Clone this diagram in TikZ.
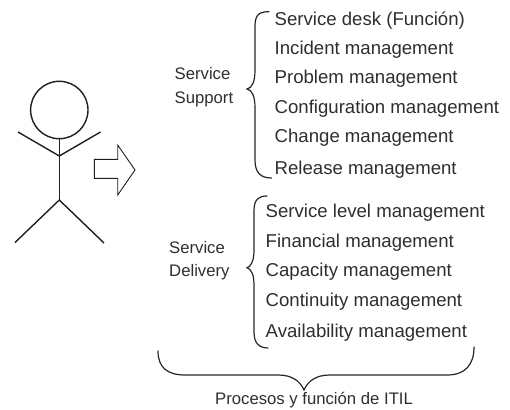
\documentclass[tikz,border=0pt]{standalone}
\usepackage{fontspec}
\setmainfont{Liberation Sans}
\tikzset{
  item/.style={anchor=base west,inner sep=0pt,text=black!82,font=\fontsize{18.6}{20}\selectfont},
  group/.style={anchor=base west,inner sep=0pt,text=black!82,font=\fontsize{16.7}{18}\selectfont},
  figure/.style={draw=black!88,line width=1.4pt,line join=miter},
  arrowshape/.style={draw=black!88,line width=0.9pt,fill=white,line join=miter},
  brace/.style={draw=black!85,line width=1.2pt,line cap=round}
}
\begin{document}
\begin{tikzpicture}[x=1pt,y=-1pt]
\useasboundingbox (0,0) rectangle (510,409);
% figure
\draw[figure] (59.3,110) circle[radius=28.7];
\draw[figure] (59.3,138.7) -- (59.3,200);
\draw[figure] (18,132) -- (59.3,156) -- (100.5,132);
\draw[figure] (15,242.5) -- (59.3,200) -- (104,243);
% arrow
\draw[arrowshape] (94.3,159.3) -- (117.7,159.3) -- (117.7,145) -- (135,170) -- (117.7,195) -- (117.7,178.3) -- (94.3,178.3) -- cycle;
% braces
\draw[brace] (269,11.7) .. controls (260,11.7) and (255,14) .. (255,26) -- (255,70) .. controls (255,82) and (252,88) .. (247,89) .. controls (252,90) and (255,96) .. (255,108) -- (255,160) .. controls (255,172) and (260,178) .. (271.5,178);
\draw[brace] (267,196) .. controls (259,196) and (254,199) .. (254,211) -- (254,250) .. controls (254,261) and (251,266.5) .. (247,267.7) .. controls (251,269) and (254,274) .. (254,285) -- (254,332) .. controls (254,343) and (259,348) .. (268,348);
\draw[brace] (158,351) .. controls (158,368) and (168,375) .. (185,375) -- (278,375) .. controls (292,375) and (300,381) .. (304,390) .. controls (308,381) and (316,375) .. (330,375) -- (447,375) .. controls (465,375) and (474,365) .. (474,347);
% texts
\node[item] (s1) at (274.5,26) {Service desk (Función)};
\node[item] (s2) at (274.5,55) {Incident management};
\node[item] (s3) at (274.5,84) {Problem management};
\node[item] (s4) at (274.5,113) {Configuration management};
\node[item] (s5) at (274.5,142) {Change management};
\node[item] (s6) at (274.5,174) {Release management};
\node[item] (d1) at (265.5,217.5) {Service level management};
\node[item] (d2) at (265.5,247) {Financial management};
\node[item] (d3) at (265.5,276) {Capacity management};
\node[item] (d4) at (265.5,306) {Continuity management};
\node[item] (d5) at (265.5,337) {Availability management};
\node[group] (g1) at (174.5,80) {Service};
\node[group] (g2) at (174.5,103) {Support};
\node[group] (g3) at (169,253) {Service};
\node[group] (g4) at (169,276) {Delivery};
\node[group] (g5) at (215,404.5) {Procesos y función de ITIL};
\end{tikzpicture}
\end{document}
